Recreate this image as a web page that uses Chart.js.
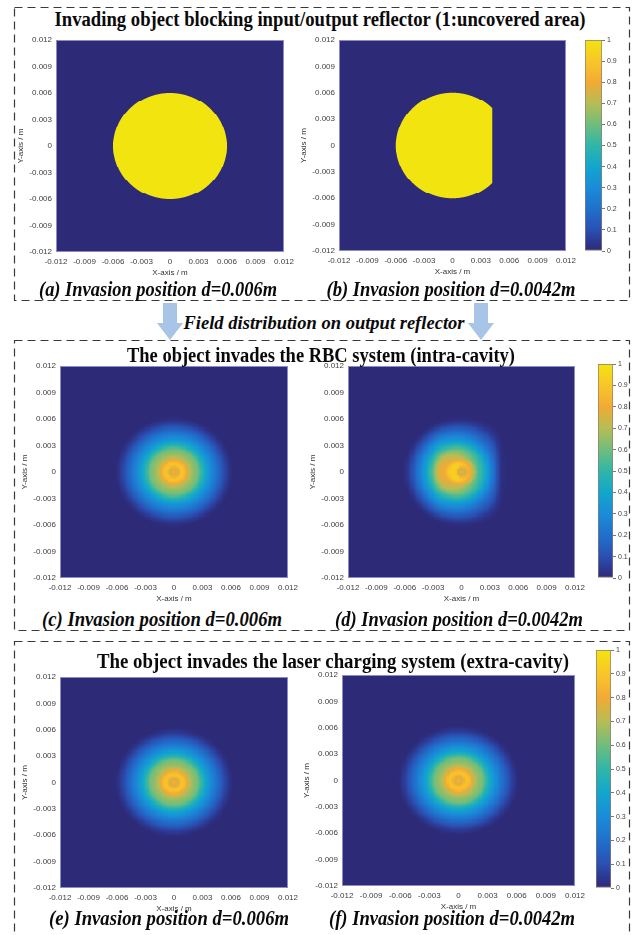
<!DOCTYPE html>
<html>
<head>
<meta charset="utf-8">
<script src="https://cdn.jsdelivr.net/npm/chart.js@4.4.1/dist/chart.umd.min.js"></script>
<style>
  html,body{margin:0;padding:0;background:#fff;}
  body{position:relative;width:633px;height:935px;overflow:hidden;}
  canvas{position:absolute;}
  svg{position:absolute;left:0;top:0;}
  .lbl{position:absolute;white-space:nowrap;line-height:1;font-family:"Liberation Serif","Times New Roman",serif;font-weight:bold;color:#0a0a0a;z-index:5;}
  .it{font-style:italic;}
</style>
</head>
<body>
<svg width="633" height="935" id="deco"></svg>
<script>
// ---------------- DATA ----------------
const axisTicks = [-0.012, -0.009, -0.006, -0.003, 0, 0.003, 0.006, 0.009, 0.012];
const axisTickLabels = ['-0.012', '-0.009', '-0.006', '-0.003', '0', '0.003', '0.006', '0.009', '0.012'];
const colorbarTicks = [0, 0.1, 0.2, 0.3, 0.4, 0.5, 0.6, 0.7, 0.8, 0.9, 1];
const colorbarTickLabels = ['0', '0.1', '0.2', '0.3', '0.4', '0.5', '0.6', '0.7', '0.8', '0.9', '1'];

// uncovered reflector area (value 1 inside radius, left of the invading object edge)
const reflectorRadius = 0.006;
const invasionPositions = [0.006, 0.0042];

// radial field profile (normalised intensity)
const radialPositions = [0, 0.0002, 0.0004, 0.0006, 0.0008, 0.0010, 0.0012, 0.0014, 0.0016, 0.0018,
  0.0020, 0.0022, 0.0024, 0.0026, 0.0028, 0.0030, 0.0032, 0.0034, 0.0036, 0.0038,
  0.0040, 0.0042, 0.0044, 0.0046, 0.0048, 0.0050, 0.0052, 0.0054, 0.0056, 0.0058, 0.0060, 0.0062];
const fieldIntraC = [0.85, 0.80, 0.74, 0.84, 0.89, 0.88, 0.84, 0.78, 0.72, 0.68,
  0.66, 0.63, 0.62, 0.58, 0.53, 0.47, 0.43, 0.39, 0.35, 0.31,
  0.28, 0.25, 0.22, 0.19, 0.16, 0.13, 0.10, 0.075, 0.055, 0.035, 0.015, 0.0];
const fieldIntraD = [0.86, 0.76, 0.72, 0.86, 0.90, 0.88, 0.83, 0.77, 0.71, 0.67,
  0.65, 0.62, 0.60, 0.56, 0.51, 0.46, 0.42, 0.38, 0.34, 0.30,
  0.27, 0.24, 0.21, 0.18, 0.15, 0.12, 0.095, 0.07, 0.05, 0.03, 0.012, 0.0];
// horizontal modulation of panel (d) (object edge on the right side)
const intraDCutX = [-0.0060, -0.0048, -0.0036, -0.0024, -0.0012, 0, 0.0012, 0.0024, 0.0030, 0.0036, 0.0042, 0.0048, 0.0060];
const intraDFactor = [1.10, 1.18, 1.24, 1.28, 1.12, 1.00, 0.88, 0.74, 0.66, 0.46, 0.08, 0.0, 0.0];
const fieldExtraE = [0.85, 0.80, 0.74, 0.84, 0.89, 0.88, 0.84, 0.78, 0.72, 0.68,
  0.66, 0.63, 0.62, 0.58, 0.53, 0.47, 0.43, 0.39, 0.35, 0.31,
  0.28, 0.25, 0.22, 0.19, 0.16, 0.13, 0.10, 0.075, 0.055, 0.035, 0.015, 0.0];
const fieldExtraF = [0.85, 0.80, 0.74, 0.84, 0.89, 0.88, 0.84, 0.78, 0.72, 0.68,
  0.66, 0.63, 0.62, 0.58, 0.53, 0.47, 0.43, 0.39, 0.35, 0.31,
  0.28, 0.25, 0.22, 0.19, 0.16, 0.13, 0.10, 0.075, 0.055, 0.035, 0.015, 0.0];

// colormap (parula-like as seen on the colour bars)
const cmapStops = [0, 0.05, 0.1, 0.2, 0.3, 0.4, 0.5, 0.6, 0.7, 0.8, 0.9, 1.0];
const cmapColors = ['#2d2a78', '#2c3a94', '#2a50b2', '#2070cc', '#1a8cd8', '#12a6cc', '#30b6a8', '#70bd7c', '#b6bd55', '#f2aa34', '#f8c62a', '#f2e40e'];

// ---------------- HELPERS ----------------
function hexRgb(h){return [parseInt(h.slice(1,3),16),parseInt(h.slice(3,5),16),parseInt(h.slice(5,7),16)];}
const cmapRgb = cmapColors.map(hexRgb);
function rgbAt(v){
  v = Math.max(0, Math.min(1, v));
  let s = 0; while (s < cmapStops.length - 2 && v > cmapStops[s + 1]) s++;
  const t = (v - cmapStops[s]) / (cmapStops[s + 1] - cmapStops[s]);
  const a = cmapRgb[s], b = cmapRgb[s + 1];
  return [0,1,2].map(c => Math.round(a[c] + (b[c] - a[c]) * t));
}
const LUT = [], MIX = [];
const c0 = rgbAt(0), c1 = rgbAt(1);
for (let k = 0; k <= 512; k++) {
  LUT.push('rgb(' + rgbAt(k / 512).join(',') + ')');
  MIX.push('rgb(' + [0,1,2].map(c => Math.round(c0[c] + (c1[c] - c0[c]) * k / 512)).join(',') + ')');
}
function colorFor(v, blend){ v = Math.max(0, Math.min(1, v)); return (blend ? MIX : LUT)[Math.round(v * 512)]; }
function interp(xs, ys, x){
  if (x <= xs[0]) return ys[0];
  if (x >= xs[xs.length-1]) return ys[ys.length-1];
  let i = 0; while (x > xs[i+1]) i++;
  const t = (x - xs[i]) / (xs[i+1] - xs[i]);
  return ys[i] + (ys[i+1] - ys[i]) * t;
}

// mask coverage (supersampled over the cell)
const maskValue = edge => (x, y, hx, hy) => {
  let n = 0;
  for (let a = 0; a < 4; a++) for (let b = 0; b < 4; b++) {
    const px = x + (a - 1.5) / 4 * hx, py = y + (b - 1.5) / 4 * hy;
    if (px*px + py*py <= reflectorRadius*reflectorRadius && px <= edge) n++;
  }
  return n / 16;
};
const radialValue = prof => (x, y) => interp(radialPositions, prof, Math.sqrt(x*x+y*y));
const radialCutValue = (prof, cx, cf) => (x, y) => Math.min(0.93, radialValue(prof)(x, y) * interp(cx, cf, x));

function heatmapPlugin(valueAt, cells, blend){
  return {
    id: 'heatmap',
    beforeDatasetsDraw(chart){
      const xs = chart.scales.x, ys = chart.scales.y, ctx = chart.ctx;
      const sx = (xs.max - xs.min) / cells, sy = (ys.max - ys.min) / cells;
      ctx.save();
      for (let i = 0; i < cells; i++) {
        const x0 = xs.min + i*sx;
        const p0 = Math.round(xs.getPixelForValue(x0)), p1 = Math.max(p0 + 1, Math.round(xs.getPixelForValue(x0 + sx)));
        for (let j = 0; j < cells; j++) {
          const y0 = ys.min + j*sy;
          const q0 = Math.round(ys.getPixelForValue(y0 + sy)), q1 = Math.max(q0 + 1, Math.round(ys.getPixelForValue(y0)));
          ctx.fillStyle = colorFor(valueAt(x0 + sx/2, y0 + sy/2, sx, sy), blend);
          ctx.fillRect(p0, q0, p1 - p0, q1 - q0);
        }
      }
      const a = chart.chartArea;
      ctx.strokeStyle = 'rgba(150,150,205,0.9)';
      ctx.lineWidth = 1;
      ctx.strokeRect(a.left + 0.5, a.top + 0.5, a.right - a.left - 1, a.bottom - a.top - 1);
      ctx.restore();
    }
  };
}

const SANS = '"Liberation Sans", Arial, sans-serif';
const YW = 44, PADT = 6, PADR = 14, XH = 27;

function axisCfg(isX){
  return {
    type: 'linear', min: -0.012, max: 0.012,
    afterBuildTicks: ax => { ax.ticks = axisTicks.map(v => ({value: v})); },
    ticks: {callback: v => axisTickLabels[axisTicks.indexOf(v)], autoSkip: false, maxRotation: 0, minRotation: 0,
            font: {family: SANS, size: 8}, color: '#404040', padding: isX ? 5 : 4},
    grid: {display: false, drawTicks: false},
    border: {display: false},
    title: {display: true, text: isX ? 'X-axis / m' : 'Y-axis / m', font: {family: SANS, size: 8}, color: '#333',
            padding: isX ? {top: 2, bottom: 1} : {top: 4, bottom: 0}},
    afterFit: ax => {
      if (isX) { ax.height = XH; ax.paddingLeft = 0; ax.paddingRight = 0; }
      else { ax.width = YW; ax.paddingTop = 0; ax.paddingBottom = 0; }
    }
  };
}

function makeHeatmap(rect, valueAt, cells, blend){
  const [L, T, R, B] = rect;
  const cv = document.createElement('canvas');
  const w = R - L + YW + PADR, h = B - T + PADT + XH;
  cv.width = w; cv.height = h;
  cv.style.left = (L - YW) + 'px'; cv.style.top = (T - PADT) + 'px';
  cv.style.width = w + 'px'; cv.style.height = h + 'px';
  document.body.appendChild(cv);
  new Chart(cv, {
    type: 'scatter',
    data: {datasets: [{data: []}]},
    options: {
      responsive: false, animation: false, devicePixelRatio: 1,
      layout: {padding: {top: PADT, right: PADR, left: 0, bottom: 0}},
      plugins: {legend: {display: false}, tooltip: {enabled: false}},
      scales: {x: axisCfg(true), y: axisCfg(false)}
    },
    plugins: [heatmapPlugin(valueAt, cells, blend)]
  });
}

function makeColorbar(rect){
  const [L, T, R, B] = rect;
  const CW = 24, P = 6;
  const cv = document.createElement('canvas');
  const w = R - L + CW, h = B - T + 2*P;
  cv.width = w; cv.height = h;
  cv.style.left = L + 'px'; cv.style.top = (T - P) + 'px';
  cv.style.width = w + 'px'; cv.style.height = h + 'px';
  document.body.appendChild(cv);
  new Chart(cv, {
    type: 'bar',
    data: {labels: [''], datasets: [{
      data: [[0, 1]],
      backgroundColor: c => {
        const a = c.chart.chartArea; if (!a) return cmapColors[0];
        const g = c.chart.ctx.createLinearGradient(0, a.bottom, 0, a.top);
        cmapStops.forEach((s, i) => g.addColorStop(s, cmapColors[i]));
        return g;
      },
      borderColor: '#8f7a74', borderWidth: 1, borderSkipped: false,
      barPercentage: 1, categoryPercentage: 1
    }]},
    options: {
      responsive: false, animation: false, devicePixelRatio: 1,
      layout: {padding: {top: P, bottom: P, left: 0, right: 0}},
      plugins: {legend: {display: false}, tooltip: {enabled: false}},
      scales: {
        x: {display: false},
        y: {position: 'right', min: 0, max: 1,
            afterBuildTicks: ax => { ax.ticks = colorbarTicks.map(v => ({value: v})); },
            ticks: {callback: v => colorbarTickLabels[colorbarTicks.indexOf(v)], autoSkip: false,
                    font: {family: SANS, size: 7}, color: '#404040', padding: 2},
            grid: {drawOnChartArea: false, drawTicks: true, tickLength: 3, color: '#777'},
            border: {display: false},
            afterFit: ax => { ax.width = CW; ax.paddingTop = 0; ax.paddingBottom = 0; }}
      }
    }
  });
}

function place(text, cx, cy, width, size, italic){
  const el = document.createElement('div');
  el.className = 'lbl' + (italic ? ' it' : '');
  el.style.fontSize = size + 'px';
  el.textContent = text;
  document.body.appendChild(el);
  const nat = el.getBoundingClientRect().width;
  el.style.left = cx + 'px'; el.style.top = cy + 'px';
  el.style.transform = 'translate(-50%,-50%) scaleX(' + (width / nat).toFixed(4) + ')';
}

// ---------------- DECORATION ----------------
const svg = document.getElementById('deco');
const NS = 'http://www.w3.org/2000/svg';
function rect(x, y, w, h){
  const r = document.createElementNS(NS, 'rect');
  r.setAttribute('x', x); r.setAttribute('y', y); r.setAttribute('width', w); r.setAttribute('height', h);
  r.setAttribute('fill', 'none'); r.setAttribute('stroke', '#3a3a3a'); r.setAttribute('stroke-width', '1.2');
  r.setAttribute('stroke-dasharray', '8 5');
  svg.appendChild(r);
}
rect(14.5, 7.5, 615, 293);
rect(14.5, 340.5, 615, 290);
rect(14.5, 641.5, 615, 310);
function arrow(cx){
  const p = document.createElementNS(NS, 'polygon');
  const pts = [[cx-7,303],[cx+7,303],[cx+7,323],[cx+13,323],[cx,340],[cx-13,323],[cx-7,323]];
  p.setAttribute('points', pts.map(q => q.join(',')).join(' '));
  p.setAttribute('fill', '#a8c4e6');
  svg.appendChild(p);
}
arrow(170); arrow(481);

// ---------------- CHARTS ----------------
makeHeatmap([56, 40, 284, 252], maskValue(invasionPositions[0]), 228, true);
makeHeatmap([339, 40, 566, 251], maskValue(invasionPositions[1]), 227, true);
makeColorbar([585, 40, 602, 251]);

makeHeatmap([60, 366, 288, 578], radialValue(fieldIntraC), 190, false);
makeHeatmap([348, 366, 575, 578], radialCutValue(fieldIntraD, intraDCutX, intraDFactor), 190, false);
makeColorbar([598, 364, 613, 578]);

makeHeatmap([60, 677, 288, 888], radialValue(fieldExtraE), 190, false);
makeHeatmap([342, 675, 575, 886], radialValue(fieldExtraF), 190, false);
makeColorbar([596, 650, 611, 888]);

// ---------------- TEXT ----------------
place('Invading object blocking input/output reflector (1:uncovered area)', 320, 19, 531, 20, false);
place('(a) Invasion position d=0.006m', 158, 289, 238, 22, true);
place('(b) Invasion position d=0.0042m', 451, 289, 249, 22, true);
place('Field distribution on output reflector', 324, 322, 281, 19, true);
place('The object invades the RBC system (intra-cavity)', 321, 355, 388, 20, false);
place('(c) Invasion position d=0.006m', 162, 619, 240, 22, true);
place('(d) Invasion position d=0.0042m', 459, 619, 248, 22, true);
place('The object invades the laser charging system (extra-cavity)', 333, 661, 472, 20, false);
place('(e) Invasion position d=0.006m', 169, 918, 240, 22, true);
place('(f) Invasion position d=0.0042m', 452, 918, 246, 22, true);
</script>
</body>
</html>
